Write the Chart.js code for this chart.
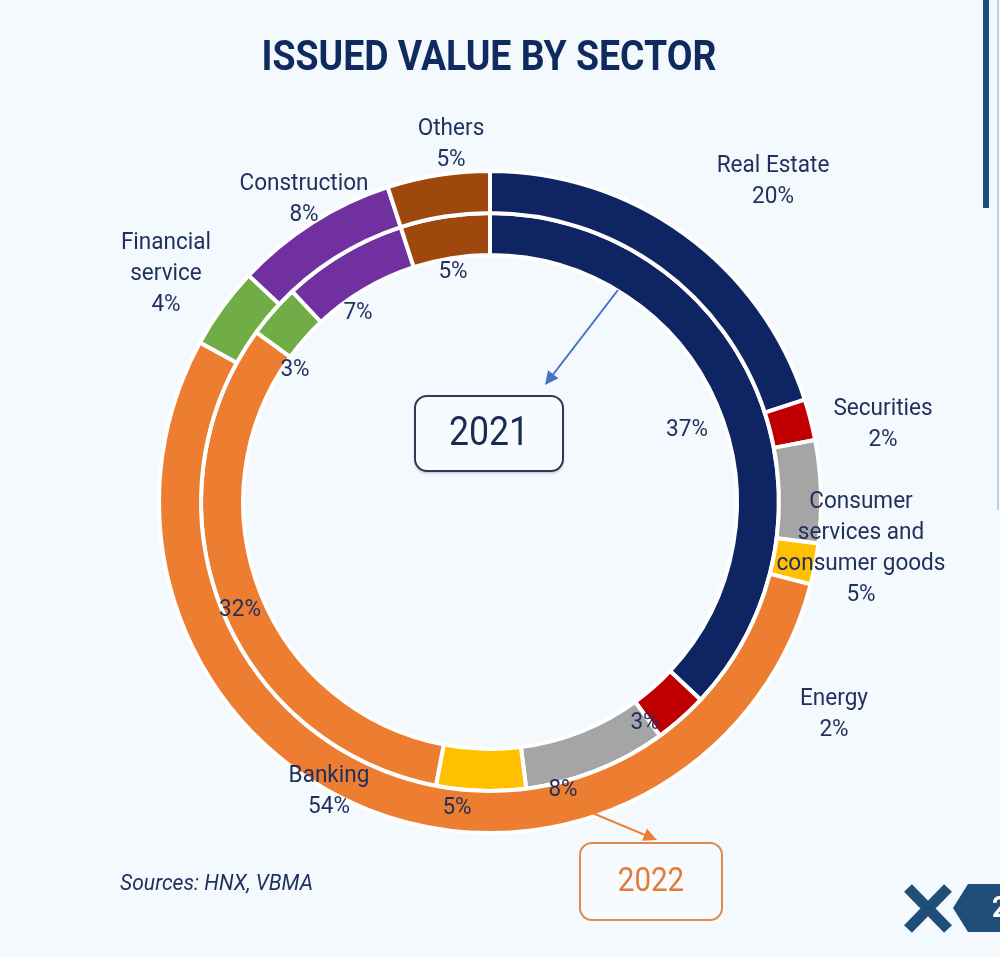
<!DOCTYPE html>
<html>
<head>
<meta charset="utf-8">
<title>Issued value by sector</title>
<script src="https://cdn.jsdelivr.net/npm/chart.js@4.4.1/dist/chart.umd.min.js"></script>
<style>
  html, body { margin: 0; padding: 0; background: #f3f9fc; }
  #wrap { width: 1000px; height: 957px; }
</style>
</head>
<body>
<div id="wrap"><canvas id="sectorChart" width="1000" height="957"></canvas></div>
<script>
// Sectors, in the order the slices run clockwise from 12 o'clock
const sectors = ['Real Estate', 'Securities', 'Consumer services and consumer goods', 'Energy', 'Banking', 'Financial service', 'Construction', 'Others'];
// Share of issued value (%): outer ring = 2022, inner ring = 2021
const share2022 = [20, 2, 5, 2, 54, 4, 8, 5];
const share2021 = [37, 3, 8, 5, 32, 3, 7, 5];
const years = ['2022', '2021'];

const sectorColors = ['#0f2462', '#c00000', '#a5a5a5', '#ffc000', '#ed7d31', '#70ad47', '#7030a0', '#9e480e'];

// How the sector names wrap next to the ring
const labelLines = [['Real Estate'], ['Securities'], ['Consumer', 'services and', 'consumer goods'], ['Energy'], ['Banking'], ['Financial', 'service'], ['Construction'], ['Others']];

// Hand placed label spots (offsets from the doughnut centre), like the original slide
const outerLabelOffset = [[283, -321], [393, -78], [371, 46], [344, 212], [-161, 289], [-324, -228], [-186, -303], [-39, -358]];
const innerLabelOffset = [[197, -72], [155, 221], [73, 288], [-33, 306], [-250, 108], [-195, -132], [-132, -189], [-37, -230]];

// no condensed face installed, so Roboto gets squeezed sideways
const FONT = 'Roboto, sans-serif';
const TEXT = '#1f2f5e';
const BG = '#f3f9fc';

function say(ctx, text, x, y, font, color, squeeze, align) {
    ctx.save();
    ctx.font = font;
    ctx.fillStyle = color;
    ctx.textAlign = align || 'center';
    ctx.textBaseline = 'middle';
    ctx.translate(x, y);
    ctx.scale(squeeze, 1);
    ctx.fillText(text, 0, 0);
    ctx.restore();
}

function arrow(ctx, x1, y1, x2, y2, color) {
    const a = Math.atan2(y2 - y1, x2 - x1);
    const head = 15;
    ctx.save();
    ctx.strokeStyle = color;
    ctx.fillStyle = color;
    ctx.lineWidth = 2;
    ctx.beginPath();
    ctx.moveTo(x1, y1);
    ctx.lineTo(x2 - Math.cos(a) * head * 0.8, y2 - Math.sin(a) * head * 0.8);
    ctx.stroke();
    ctx.beginPath();
    ctx.moveTo(x2, y2);
    ctx.lineTo(x2 - head * Math.cos(a - 0.45), y2 - head * Math.sin(a - 0.45));
    ctx.lineTo(x2 - head * Math.cos(a + 0.45), y2 - head * Math.sin(a + 0.45));
    ctx.closePath();
    ctx.fill();
    ctx.restore();
}

function yearBox(ctx, x, y, w, h, stroke, textColor, text, size, shadow) {
    ctx.save();
    if (shadow) {
        ctx.shadowColor = 'rgba(60, 70, 90, 0.35)';
        ctx.shadowOffsetY = 2;
        ctx.shadowBlur = 3;
    }
    ctx.beginPath();
    ctx.roundRect(x, y, w, h, 12);
    ctx.fillStyle = '#f8fbfd';
    ctx.fill();
    ctx.shadowColor = 'transparent';
    ctx.lineWidth = 2;
    ctx.strokeStyle = stroke;
    ctx.stroke();
    ctx.restore();
    say(ctx, text, x + w / 2, y + h / 2 + 1, `${size}px ${FONT}`, textColor, 0.87);
}

const decorations = {
    id: 'decorations',
    beforeDraw(chart) {
        const ctx = chart.ctx;
        ctx.save();
        ctx.fillStyle = BG;
        ctx.fillRect(0, 0, chart.width, chart.height);
        ctx.restore();
    },
    afterDatasetsDraw(chart) {
        const ctx = chart.ctx;
        const first = chart.getDatasetMeta(0).data[0];
        const cx = first.x, cy = first.y;
        const labelFont = `24px ${FONT}`;

        // outer ring (2022): name + share
        sectors.forEach((s, i) => {
            const lines = labelLines[i].concat([share2022[i] + '%']);
            const [dx, dy] = outerLabelOffset[i];
            const top = cy + dy - (lines.length - 1) * 31 / 2;
            lines.forEach((t, k) => say(ctx, t, cx + dx, top + k * 31, labelFont, TEXT, 0.94));
        });
        // inner ring (2021): share only
        sectors.forEach((s, i) => {
            const [dx, dy] = innerLabelOffset[i];
            say(ctx, share2021[i] + '%', cx + dx, cy + dy, labelFont, TEXT, 0.94);
        });

        // title and source note
        say(ctx, 'ISSUED VALUE BY SECTOR', 489, 59, `bold 43px ${FONT}`, '#0f2a5f', 0.87);
        say(ctx, 'Sources: HNX, VBMA', 120, 884, `italic 22px ${FONT}`, TEXT, 0.96, 'left');

        // year call-outs
        arrow(ctx, cx + 128, cy - 212, cx + 55, cy - 117, '#4472c4');
        yearBox(ctx, cx - 75, cy - 106, 148, 75, '#2e3a52', '#1a2a55', years[1], 41, true);
        arrow(ctx, cx + 100, cy + 310, cx + 167, cy + 338, '#ed7d31');
        yearBox(ctx, cx + 90, cy + 341, 142, 77, '#e08a4e', '#e07b39', years[0], 34, false);

        // slide furniture on the right edge
        ctx.save();
        ctx.fillStyle = '#1f4e79';
        ctx.fillRect(983, 0, 6, 208);
        ctx.fillStyle = '#c9cfd6';
        ctx.fillRect(997, 0, 2, 510);

        // logo
        ctx.strokeStyle = '#1f4e79';
        ctx.lineWidth = 11;
        ctx.beginPath();
        ctx.moveTo(908, 888); ctx.lineTo(948, 929);
        ctx.moveTo(948, 888); ctx.lineTo(908, 929);
        ctx.stroke();
        ctx.fillStyle = '#1f4e79';
        ctx.beginPath();
        ctx.moveTo(953, 908); ctx.lineTo(968, 884); ctx.lineTo(1015, 884);
        ctx.lineTo(1030, 908); ctx.lineTo(1015, 932); ctx.lineTo(968, 932);
        ctx.closePath();
        ctx.fill();
        ctx.restore();
        say(ctx, '2', 992, 909, `bold 30px ${FONT}`, '#ffffff', 0.87, 'left');
    }
};

new Chart(document.getElementById('sectorChart').getContext('2d'), {
    type: 'doughnut',
    data: {
        labels: sectors,
        datasets: [{
            label: years[0],
            data: share2022,
            backgroundColor: sectorColors,
            borderColor: '#ffffff',
            borderWidth: 4
        }, {
            label: years[1],
            data: share2021,
            backgroundColor: sectorColors,
            borderColor: '#ffffff',
            borderWidth: 4
        }]
    },
    options: {
        responsive: false,
        animation: false,
        cutout: '74.6%',
        layout: { padding: { left: 157, right: 177, top: 169, bottom: 122 } },
        plugins: {
            legend: { display: false },
            tooltip: { enabled: false }
        }
    },
    plugins: [decorations]
});
</script>
</body>
</html>
